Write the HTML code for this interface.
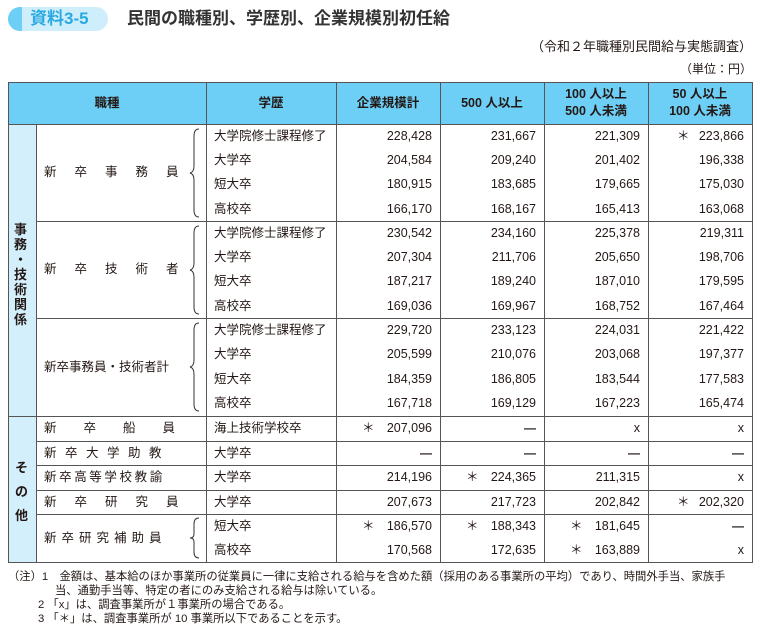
<!DOCTYPE html>
<html><head><meta charset="utf-8"><style>
body{margin:0;width:760px;height:635px;background:#fff;position:relative;font-family:"Liberation Sans","Noto Sans CJK JP",sans-serif;color:#231815;overflow:hidden}
.a{position:absolute;white-space:nowrap;font-size:12.5px;line-height:18px;height:18px}
.r{text-align:right}
.c{text-align:center}
.h{position:absolute;height:1px;background:#555}
.v{position:absolute;width:1px;background:#555}
.d{font-weight:bold;font-size:12px}
</style></head><body>
<div style="position:absolute;left:8px;top:7px;width:100px;height:24px;border-radius:12px;background:#cfeefc"></div>
<div style="position:absolute;left:8px;top:7px;width:14px;height:24px;border-radius:12px 0 0 12px;background:#6dcff6"></div>
<div class="a" style="left:30px;top:9px;font-size:17px;line-height:20px;height:20px;color:#29a9e0;font-weight:bold">資料3-5</div>
<div class="a" style="left:127px;top:8px;font-size:17px;line-height:22px;height:22px;font-weight:bold;color:#333">民間の職種別、学歴別、企業規模別初任給</div>
<div class="a r" style="right:8px;top:38px;font-size:13px">（令和２年職種別民間給与実態調査）</div>
<div class="a r" style="right:8px;top:60px;font-size:12px">（単位：円）</div>

<div style="position:absolute;left:8px;top:82px;width:744px;height:42px;background:#6dcff6"></div>
<div style="position:absolute;left:8px;top:124px;width:28px;height:438px;background:#d4effc"></div>

<div class="a c" style="left:8px;width:198px;top:94px;font-weight:bold">職種</div>
<div class="a c" style="left:206px;width:130px;top:94px;font-weight:bold">学歴</div>
<div class="a c" style="left:336px;width:104px;top:94px;font-weight:bold">企業規模計</div>
<div class="a c" style="left:440px;width:104px;top:94px;font-weight:bold">500 人以上</div>
<div class="a c" style="left:544px;width:104px;top:85px;font-weight:bold">100 人以上</div>
<div class="a c" style="left:544px;width:104px;top:102px;font-weight:bold">500 人未満</div>
<div class="a c" style="left:648px;width:104px;top:85px;font-weight:bold">50 人以上</div>
<div class="a c" style="left:648px;width:104px;top:102px;font-weight:bold">100 人未満</div>

<div class="h" style="left:8px;width:745px;top:82px"></div>
<div class="h" style="left:8px;width:745px;top:124px"></div>
<div class="h" style="left:36px;width:717px;top:221px"></div>
<div class="h" style="left:36px;width:717px;top:318px"></div>
<div class="h" style="left:8px;width:745px;top:416px"></div>
<div class="h" style="left:36px;width:717px;top:441px"></div>
<div class="h" style="left:36px;width:717px;top:465px"></div>
<div class="h" style="left:36px;width:717px;top:490px"></div>
<div class="h" style="left:36px;width:717px;top:514px"></div>
<div class="h" style="left:8px;width:745px;top:562px"></div>
<div class="v" style="left:8px;top:82px;height:481px"></div>
<div class="v" style="left:36px;top:124px;height:438px"></div>
<div class="v" style="left:206px;top:82px;height:481px"></div>
<div class="v" style="left:336px;top:82px;height:481px"></div>
<div class="v" style="left:440px;top:82px;height:481px"></div>
<div class="v" style="left:544px;top:82px;height:481px"></div>
<div class="v" style="left:648px;top:82px;height:481px"></div>
<div class="v" style="left:752px;top:82px;height:481px"></div>

<div class="a" style="left:14px;top:222px;width:16px;white-space:normal;height:auto;line-height:15px;font-weight:bold;font-size:13px">事<br>務<br>・<br>技<br>術<br>関<br>係</div>
<div class="a" style="left:15px;top:456px;width:16px;white-space:normal;height:auto;line-height:24px;font-weight:bold;font-size:13px">そ<br>の<br>他</div>

<div class="a" style="left:44px;top:163px;letter-spacing:18px">新卒事務員</div>
<div class="a" style="left:44px;top:260px;letter-spacing:18px">新卒技術者</div>
<div class="a" style="left:44px;top:358px">新卒事務員・技術者計</div>
<div class="a" style="left:44px;top:419px;letter-spacing:27px">新卒船員</div>
<div class="a" style="left:44px;top:444px;letter-spacing:8.5px">新卒大学助教</div>
<div class="a" style="left:44px;top:468px;letter-spacing:2.6px">新卒高等学校教諭</div>
<div class="a" style="left:44px;top:493px;letter-spacing:18px">新卒研究員</div>
<div class="a" style="left:44px;top:529px;letter-spacing:5px">新卒研究補助員</div>

<svg style="position:absolute;left:186px;top:124px" width="20" height="440">
<g fill="none" stroke="#333" stroke-width="1">
<path d="M13 5 Q8 5 8 12 L8 42 Q8 48 4 49 Q8 50 8 56 L8 86 Q8 93 13 93"/>
<path d="M13 102 Q8 102 8 109 L8 139 Q8 145 4 146 Q8 147 8 153 L8 183 Q8 190 13 190"/>
<path d="M13 199 Q8 199 8 206 L8 236 Q8 242 4 243 Q8 244 8 250 L8 280 Q8 287 13 287"/>
<path d="M13 394 Q8 394 8 400 L8 410 Q8 414 4 414 Q8 414 8 418 L8 428 Q8 434 13 434"/>
</g></svg>

<div class="a" style="left:214px;top:127px">大学院修士課程修了</div>
<div class="a" style="left:214px;top:151px">大学卒</div>
<div class="a" style="left:214px;top:175px">短大卒</div>
<div class="a" style="left:214px;top:200px">高校卒</div>
<div class="a" style="left:214px;top:224px">大学院修士課程修了</div>
<div class="a" style="left:214px;top:248px">大学卒</div>
<div class="a" style="left:214px;top:272px">短大卒</div>
<div class="a" style="left:214px;top:297px">高校卒</div>
<div class="a" style="left:214px;top:321px">大学院修士課程修了</div>
<div class="a" style="left:214px;top:345px">大学卒</div>
<div class="a" style="left:214px;top:370px">短大卒</div>
<div class="a" style="left:214px;top:394px">高校卒</div>
<div class="a" style="left:214px;top:419px">海上技術学校卒</div>
<div class="a" style="left:214px;top:444px">大学卒</div>
<div class="a" style="left:214px;top:468px">大学卒</div>
<div class="a" style="left:214px;top:493px">大学卒</div>
<div class="a" style="left:214px;top:517px">短大卒</div>
<div class="a" style="left:214px;top:541px">高校卒</div>

<div class="a r" style="right:328px;top:127px">228,428</div>
<div class="a r" style="right:328px;top:151px">204,584</div>
<div class="a r" style="right:328px;top:175px">180,915</div>
<div class="a r" style="right:328px;top:200px">166,170</div>
<div class="a r" style="right:328px;top:224px">230,542</div>
<div class="a r" style="right:328px;top:248px">207,304</div>
<div class="a r" style="right:328px;top:272px">187,217</div>
<div class="a r" style="right:328px;top:297px">169,036</div>
<div class="a r" style="right:328px;top:321px">229,720</div>
<div class="a r" style="right:328px;top:345px">205,599</div>
<div class="a r" style="right:328px;top:370px">184,359</div>
<div class="a r" style="right:328px;top:394px">167,718</div>
<div class="a r" style="right:328px;top:419px">207,096</div>
<div class="a r d" style="right:328px;top:444px">—</div>
<div class="a r" style="right:328px;top:468px">214,196</div>
<div class="a r" style="right:328px;top:493px">207,673</div>
<div class="a r" style="right:328px;top:517px">186,570</div>
<div class="a r" style="right:328px;top:541px">170,568</div>

<div class="a r" style="right:224px;top:127px">231,667</div>
<div class="a r" style="right:224px;top:151px">209,240</div>
<div class="a r" style="right:224px;top:175px">183,685</div>
<div class="a r" style="right:224px;top:200px">168,167</div>
<div class="a r" style="right:224px;top:224px">234,160</div>
<div class="a r" style="right:224px;top:248px">211,706</div>
<div class="a r" style="right:224px;top:272px">189,240</div>
<div class="a r" style="right:224px;top:297px">169,967</div>
<div class="a r" style="right:224px;top:321px">233,123</div>
<div class="a r" style="right:224px;top:345px">210,076</div>
<div class="a r" style="right:224px;top:370px">186,805</div>
<div class="a r" style="right:224px;top:394px">169,129</div>
<div class="a r d" style="right:224px;top:419px">—</div>
<div class="a r d" style="right:224px;top:444px">—</div>
<div class="a r" style="right:224px;top:468px">224,365</div>
<div class="a r" style="right:224px;top:493px">217,723</div>
<div class="a r" style="right:224px;top:517px">188,343</div>
<div class="a r" style="right:224px;top:541px">172,635</div>

<div class="a r" style="right:120px;top:127px">221,309</div>
<div class="a r" style="right:120px;top:151px">201,402</div>
<div class="a r" style="right:120px;top:175px">179,665</div>
<div class="a r" style="right:120px;top:200px">165,413</div>
<div class="a r" style="right:120px;top:224px">225,378</div>
<div class="a r" style="right:120px;top:248px">205,650</div>
<div class="a r" style="right:120px;top:272px">187,010</div>
<div class="a r" style="right:120px;top:297px">168,752</div>
<div class="a r" style="right:120px;top:321px">224,031</div>
<div class="a r" style="right:120px;top:345px">203,068</div>
<div class="a r" style="right:120px;top:370px">183,544</div>
<div class="a r" style="right:120px;top:394px">167,223</div>
<div class="a r" style="right:120px;top:419px">x</div>
<div class="a r d" style="right:120px;top:444px">—</div>
<div class="a r" style="right:120px;top:468px">211,315</div>
<div class="a r" style="right:120px;top:493px">202,842</div>
<div class="a r" style="right:120px;top:517px">181,645</div>
<div class="a r" style="right:120px;top:541px">163,889</div>

<div class="a r" style="right:16px;top:127px">223,866</div>
<div class="a r" style="right:16px;top:151px">196,338</div>
<div class="a r" style="right:16px;top:175px">175,030</div>
<div class="a r" style="right:16px;top:200px">163,068</div>
<div class="a r" style="right:16px;top:224px">219,311</div>
<div class="a r" style="right:16px;top:248px">198,706</div>
<div class="a r" style="right:16px;top:272px">179,595</div>
<div class="a r" style="right:16px;top:297px">167,464</div>
<div class="a r" style="right:16px;top:321px">221,422</div>
<div class="a r" style="right:16px;top:345px">197,377</div>
<div class="a r" style="right:16px;top:370px">177,583</div>
<div class="a r" style="right:16px;top:394px">165,474</div>
<div class="a r" style="right:16px;top:419px">x</div>
<div class="a r d" style="right:16px;top:444px">—</div>
<div class="a r" style="right:16px;top:468px">x</div>
<div class="a r" style="right:16px;top:493px">202,320</div>
<div class="a r d" style="right:16px;top:517px">—</div>
<div class="a r" style="right:16px;top:541px">x</div>

<div class="a" style="left:677px;top:127px">＊</div>
<div class="a" style="left:362px;top:419px">＊</div>
<div class="a" style="left:466px;top:468px">＊</div>
<div class="a" style="left:677px;top:493px">＊</div>
<div class="a" style="left:362px;top:517px">＊</div>
<div class="a" style="left:466px;top:517px">＊</div>
<div class="a" style="left:570px;top:517px">＊</div>
<div class="a" style="left:570px;top:541px">＊</div>

<div class="a" style="left:8px;top:570px;font-size:11.3px;line-height:14px">（注）1　金額は、基本給のほか事業所の従業員に一律に支給される給与を含めた額（採用のある事業所の平均）であり、時間外手当、家族手</div>
<div class="a" style="left:55px;top:584px;font-size:11.3px;line-height:14px">当、通勤手当等、特定の者にのみ支給される給与は除いている。</div>
<div class="a" style="left:38px;top:598px;font-size:11.3px;line-height:14px">2 「x」は、調査事業所が１事業所の場合である。</div>
<div class="a" style="left:38px;top:612px;font-size:11.3px;line-height:14px">3 「＊」は、調査事業所が 10 事業所以下であることを示す。</div>
</body></html>
